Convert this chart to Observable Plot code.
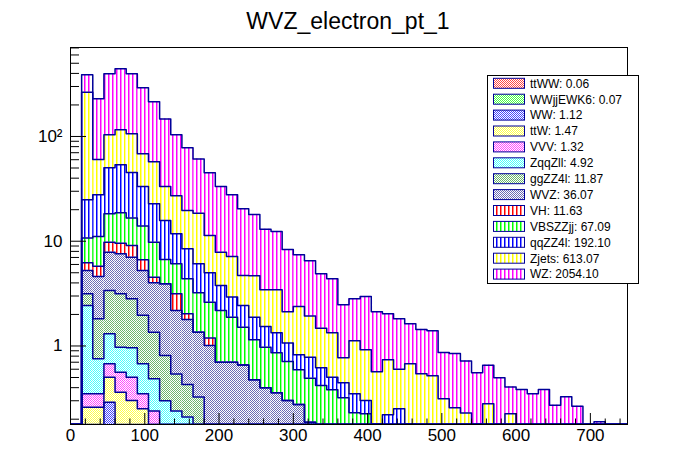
<!DOCTYPE html>
<html>
<head>
<meta charset="utf-8">
<script src="https://cdn.jsdelivr.net/npm/d3@7"></script>
<script src="https://cdn.jsdelivr.net/npm/@observablehq/plot@0.6"></script>
<style>
  body { margin: 0; background: #fff; }
</style>
</head>
<body>
<div id="chart"></div>
<script>
// ---------- data ----------
const binEdges = [0,15,30,45,60,75,90,105,120,135,150,165,180,195,210,225,240,255,270,285,300,315,330,345,360,375,390,405,420,435,450,465,480,495,510,525,540,555,570,585,600,615,630,645,660,675,690,705,720,735,750];

const ttWW     = [0,0.01,0.01,0.01,0.01,0.01,0.01,0,0,0, 0,0,0,0,0,0,0,0,0,0, 0,0,0,0,0,0,0,0,0,0, 0,0,0,0,0,0,0,0,0,0, 0,0,0,0,0,0,0,0,0,0];
const WWjjEWK6 = [0,0.01,0.01,0.01,0.01,0.01,0.01,0.01,0,0, 0,0,0,0,0,0,0,0,0,0, 0,0,0,0,0,0,0,0,0,0, 0,0,0,0,0,0,0,0,0,0, 0,0,0,0,0,0,0,0,0,0];
const WW       = [0,0.08,0.1,0.27,0.1,0.1,0.08,0.06,0.05,0.05, 0.04,0.03,0.03,0.02,0.02,0.02,0.02,0.01,0.01,0, 0,0,0,0,0,0,0,0,0,0, 0,0,0,0,0,0,0,0,0,0, 0,0,0,0,0,0,0,0,0,0];
const ttW      = [0,0.16,0.14,0.214,0.242,0.182,0.151,0.02,0.03,0.03, 0.02,0.02,0.02,0.02,0.02,0.02,0.01,0.01,0,0, 0,0,0,0,0,0,0,0,0,0, 0,0,0,0,0,0,0,0,0,0, 0,0,0,0,0,0,0,0,0,0];
const VVV      = [0,0.09,0.09,0.172,0.2,0.202,0.099,0.15,0.04,0.03, 0.02,0.02,0.01,0,0,0,0,0,0,0, 0,0,0,0,0,0,0,0,0,0, 0,0,0,0,0,0,0,0,0,0, 0,0,0,0,0,0,0,0,0,0];
const ZqqZll   = [0,2.09,0.405,0.634,0.413,0.456,0.326,0.246,0.18,0.13, 0.13,0.05,0.04,0.03,0.02,0,0,0,0,0, 0,0,0,0,0,0,0,0,0,0, 0,0,0,0,0,0,0,0,0,0, 0,0,0,0,0,0,0,0,0,0];
const ggZZ4l   = [0,0.71,1.065,2.08,2.175,1.86,1.284,0.869,0.51,0.30, 0.22,0.205,0.05,0.03,0.02,0.02,0,0,0,0, 0,0,0,0,0,0,0,0,0,0, 0,0,0,0,0,0,0,0,0,0, 0,0,0,0,0,0,0,0,0,0];
const WVZ      = [0,2.11,2.79,4.47,4.44,4.22,3.3,2.655,3.12,1.64, 1.36,1.03,0.86,0.60,0.62,0.60,0.446,0.379,0.347,0.302, 0.277,0.187,0.05,0,0,0,0,0,0,0, 0,0,0,0,0,0,0,0,0,0, 0,0,0,0,0,0,0,0,0,0];
const VH       = [0,0.96,1.17,1.94,1.99,2.06,1.39,0.53,0,0.97, 0.24,0,0.18,0,0,0,0,0,0,0, 0,0,0,0,0,0,0,0,0,0, 0,0,0,0,0,0,0,0,0,0, 0,0,0,0,0,0,0,0,0,0];
const VBSZZjj  = [0,4.5,5.32,8.5,9.12,7.6,7.35,5.26,2.77,2.94, 2.35,1.865,1.43,1.48,1.18,0.85,0.67,0.576,0.504,0.409, 0.316,0.306,0.37,0.382,0.32,0.23,0.225,0.05,0,0, 0,0,0,0,0,0,0,0,0,0, 0,0,0,0,0,0,0,0,0,0];
const qqZZ4l   = [0,14.2,16.7,31.9,35,28.6,19.3,13,9.1,5.7, 4.09,2.87,2.38,1.6,1.05,0.93,0.734,0.56,0.479,0.359, 0.231,0.289,0.2,0.122,0.125,0.12,0.077,0.13,0.22,0.251, 0.18,0,0,0,0,0,0,0,0,0, 0,0,0,0,0,0,0,0,0,0];
const Zjets    = [0,240,32.5,53.8,62.3,60.7,35.1,34.6,17.5,15.4, 11.2,12.4,6.35,4.08,4.22,2.27,2.8,1.905,2.1,1.05, 1.556,1.148,0.86,0.836,0.326,0.77,0.618,0.387,0.518,0.349, 0.496,0.543,0.52,0.313,0.257,0.229,0.18,0.281,0,0.225, 0,0,0,0,0,0,0,0,0,0];
const WZ       = [0,123,168.7,293,327,291,223.6,156.6,113.7,76.8, 58.3,42.5,33.65,25.44,20.65,15.69,13.32,9.56,8.96,6.22, 5.05,4.58,3.41,3.04,1.70,1.70,2.05,1.553,1.29,1.22, 0.954,0.897,0.88,0.554,0.591,0.491,0.375,0.375,0.497,0.182, 0.384,0.35,0.384,0.272,0.327,0.266,0,0.189,0,0];

const seriesNames = ["ttWW","WWjjEWK6","WW","ttW","VVV","ZqqZll","ggZZ4l","WVZ","VH","VBSZZjj","qqZZ4l","Zjets","WZ"];
const legendLabels = ["ttWW: 0.06","WWjjEWK6: 0.07","WW: 1.12","ttW: 1.47","VVV: 1.32","ZqqZll: 4.92","ggZZ4l: 11.87","WVZ: 36.07","VH: 11.63","VBSZZjj: 67.09","qqZZ4l: 192.10","Zjets: 613.07","WZ: 2054.10"];
const seriesValues = [ttWW, WWjjEWK6, WW, ttW, VVV, ZqqZll, ggZZ4l, WVZ, VH, VBSZZjj, qqZZ4l, Zjets, WZ];

const xMajorTicks = [0,100,200,300,400,500,600,700];
const xMinorTicks = [20,40,60,80,120,140,160,180,220,240,260,280,320,340,360,380,420,440,460,480,520,540,560,580,620,640,660,680,720,740];
const yMajorTicks = [1,10,100];
const yTickLabels = ["1","10","10²"];
const yMinorTicks = [0.2,0.3,0.4,0.5,0.6,0.7,0.8,0.9,2,3,4,5,6,7,8,9,20,30,40,50,60,70,80,90,200,300,400,500,600,700];
const title = "WVZ_electron_pt_1";

// ---------- styles ----------
const seriesColors = ["#ff0000","#00ff00","#0000ff","#ffff00","#ff00ff","#00ffff","#339933","#333399","#ff0000","#00ff00","#0000ff","#ffff00","#ff00ff"];
const seriesPattern = ["checker","checker","checker","checker","checker","checker","checker","checker","vlines","vlines","vlines","vlines","vlines"];
const lineColor = "#000099";
const font = "'Liberation Sans', Arial, Helvetica, sans-serif";

const yMin = 0.178, yMax = 707;

// ---------- stacking ----------
const nBins = binEdges.length - 1;
const segs = seriesValues.map(() => []);
const tops = seriesValues.map(() => []);
for (let j = 0; j < nBins; j++) {
  let cum = 0;
  seriesValues.forEach((arr, k) => {
    const lo = cum;
    cum += arr[j];
    tops[k].push(cum);
    if (arr[j] > 0 && cum > yMin) {
      segs[k].push({x1: binEdges[j], x2: binEdges[j + 1], y1: Math.max(lo, yMin), y2: cum});
    }
  });
}
const outlines = tops.map(t => binEdges.map((e, j) => ({x: e, y: Math.max(j < nBins ? t[j] : 0, yMin)})));

const marks = [];
seriesValues.forEach((arr, k) => {
  marks.push(Plot.rect(segs[k], {x1: "x1", x2: "x2", y1: "y1", y2: "y2", fill: `url(#pat${k})`, clip: true}));
});
seriesValues.forEach((arr, k) => {
  if (tops[k].some(v => v > yMin)) {
    marks.push(Plot.line(outlines[k], {x: "x", y: "y", curve: "step-after", stroke: lineColor, strokeWidth: 1.5, clip: true}));
  }
});
marks.push(
  Plot.frame({stroke: "black", strokeWidth: 1}),
  Plot.axisX({ticks: xMajorTicks, tickSize: -11, fill: "none", stroke: "black", label: null}),
  Plot.axisX({ticks: xMinorTicks, tickSize: -5.5, fill: "none", stroke: "black", label: null}),
  Plot.axisX({ticks: xMajorTicks, tickSize: 0, tickPadding: 4, fontSize: 17, fill: "black", label: null, tickFormat: d => String(d)}),
  Plot.axisY({ticks: yMajorTicks, tickSize: -16, fill: "none", stroke: "black", label: null}),
  Plot.axisY({ticks: yMinorTicks, tickSize: -9, fill: "none", stroke: "black", label: null}),
  Plot.axisY({ticks: yMajorTicks, tickSize: 0, tickPadding: 8, fontSize: 17, fill: "black", label: null, tickFormat: d => yTickLabels[yMajorTicks.indexOf(d)]})
);

const svg = Plot.plot({
  width: 696,
  height: 472,
  marginLeft: 70,
  marginRight: 69,
  marginTop: 47,
  marginBottom: 48,
  style: {fontFamily: font, background: "white", color: "black"},
  x: {domain: [0, 750]},
  y: {type: "log", domain: [yMin, yMax]},
  marks
});

// ---------- fill patterns ----------
const root = d3.select(svg);
const defs = root.insert("defs", ":first-child");
seriesColors.forEach((c, k) => {
  const p = defs.append("pattern").attr("id", `pat${k}`).attr("patternUnits", "userSpaceOnUse");
  if (seriesPattern[k] === "checker") {
    p.attr("width", 2).attr("height", 2);
    p.append("path").attr("d", "M0,0H2V2H0Z").attr("fill", "white");
    p.append("path").attr("d", "M0,0H1V1H0ZM1,1H2V2H1Z").attr("fill", c).attr("fill-opacity", 0.72);
  } else {
    p.attr("width", 4).attr("height", 4);
    p.append("rect").attr("width", 4).attr("height", 4).attr("fill", "white");
    p.append("rect").attr("x", 0).attr("y", 0).attr("width", 1.5).attr("height", 4).attr("fill", c);
  }
});

// ---------- title ----------
root.append("text")
  .attr("x", 348).attr("y", 29)
  .attr("text-anchor", "middle")
  .attr("font-family", font)
  .attr("font-size", 23)
  .attr("fill", "black")
  .text(title);

// ---------- legend ----------
const lg = root.append("g").attr("text-anchor", "start");
lg.append("rect").attr("x", 487.5).attr("y", 75.5).attr("width", 151).attr("height", 208)
  .attr("fill", "white").attr("stroke", "black").attr("stroke-width", 1);
legendLabels.forEach((lab, k) => {
  const cy = 83.3 + 15.9 * k;
  lg.append("rect").attr("x", 493.5).attr("y", cy - 5).attr("width", 31).attr("height", 10)
    .attr("fill", `url(#pat${k})`).attr("stroke", lineColor).attr("stroke-width", 1);
  lg.append("text").attr("x", 530).attr("y", cy + 4.3)
    .attr("text-anchor", "start")
    .attr("font-family", font).attr("font-size", 12).attr("fill", "black").text(lab);
});

document.getElementById("chart").appendChild(svg);
</script>
</body>
</html>
